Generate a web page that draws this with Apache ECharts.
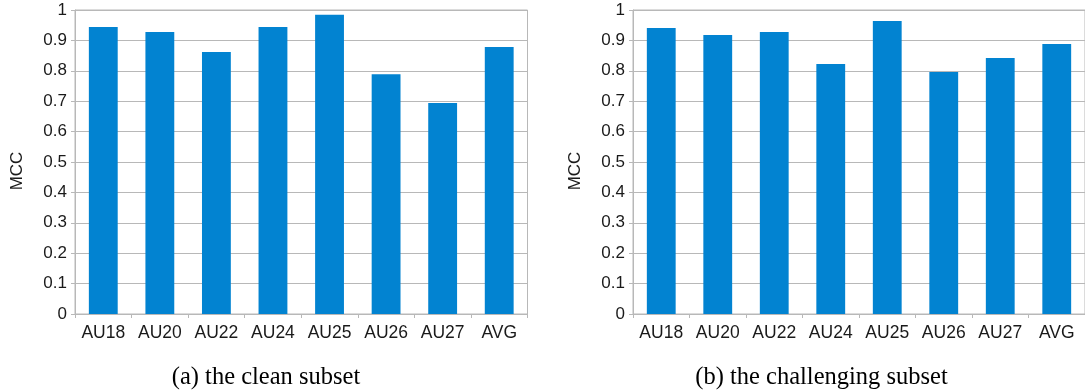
<!DOCTYPE html>
<html>
<head>
<meta charset="utf-8">
<script src="https://cdn.jsdelivr.net/npm/echarts@6/dist/echarts.min.js"></script>
<style>
  html, body { margin: 0; padding: 0; background: #ffffff; }
  #chart { width: 1085px; height: 392px; }
</style>
</head>
<body>
<div id="chart"></div>
<script>
// Action units evaluated, plus the average column
const categories = ['AU18', 'AU20', 'AU22', 'AU24', 'AU25', 'AU26', 'AU27', 'AVG'];

// MCC per action unit on the clean subset
const cleanMcc = [0.944, 0.928, 0.862, 0.944, 0.984, 0.789, 0.694, 0.878];

// MCC per action unit on the challenging subset
const challengingMcc = [0.941, 0.918, 0.928, 0.822, 0.964, 0.796, 0.842, 0.888];

// Y axis ticks
const yTicks = [0, 0.1, 0.2, 0.3, 0.4, 0.5, 0.6, 0.7, 0.8, 0.9, 1];

const captions = ['(a) the clean subset', '(b) the challenging subset'];

const SANS = '"Liberation Sans", Arial, sans-serif';
const SERIF = '"Liberation Serif", "Times New Roman", serif';
const GRID_GREY = '#b8b8b8';
const BAR_BLUE = '#0283d1';
const TEXT = '#1a1a1a';

const chart = echarts.init(document.getElementById('chart'), null, { renderer: 'canvas' });

function xAxis(gridIndex) {
  return {
    type: 'category',
    gridIndex,
    data: categories,
    boundaryGap: true,
    axisLine: { show: true, lineStyle: { color: GRID_GREY, width: 1 } },
    axisTick: { show: true, length: 4, inside: false, alignWithLabel: false,
                lineStyle: { color: GRID_GREY, width: 1 } },
    axisLabel: { color: TEXT, fontFamily: SANS, fontSize: 17.5, margin: 10,
                 interval: 0, hideOverlap: false },
    splitLine: { show: false }
  };
}

function yAxis(gridIndex) {
  return {
    type: 'value',
    gridIndex,
    min: yTicks[0],
    max: yTicks[yTicks.length - 1],
    interval: yTicks[1] - yTicks[0],
    axisLine: { show: true, lineStyle: { color: GRID_GREY, width: 1 } },
    axisTick: { show: true, length: 4, lineStyle: { color: GRID_GREY, width: 1 } },
    axisLabel: {
      color: TEXT, fontFamily: SANS, fontSize: 17, margin: 8,
      formatter: v => String(Math.round(v * 10) / 10)
    },
    splitLine: { show: true, lineStyle: { color: GRID_GREY, width: 1 } }
  };
}

function barSeries(index, values) {
  return {
    type: 'bar',
    xAxisIndex: index,
    yAxisIndex: index,
    data: values,
    barWidth: '51%',
    itemStyle: { color: BAR_BLUE },
    silent: true
  };
}

function axisTitle(x, y) {
  return {
    type: 'text', x, y, rotation: Math.PI / 2,
    style: { text: 'MCC', x: 0, y: 0, align: 'center', verticalAlign: 'middle',
             fill: TEXT, font: '17px ' + SANS }
  };
}

function caption(x, y, text) {
  return {
    type: 'text', x, y,
    style: { text, x: 0, y: 0, align: 'center', verticalAlign: 'middle',
             fill: '#000000', font: '24.5px ' + SERIF }
  };
}

chart.setOption({
  animation: false,
  backgroundColor: '#ffffff',
  grid: [
    { left: 75, top: 10, width: 452.5, height: 304, show: true,
      borderColor: GRID_GREY, borderWidth: 1, backgroundColor: 'transparent' },
    { left: 633, top: 10, width: 452.5, height: 304, show: true,
      borderColor: GRID_GREY, borderWidth: 1, backgroundColor: 'transparent' }
  ],
  xAxis: [xAxis(0), xAxis(1)],
  yAxis: [yAxis(0), yAxis(1)],
  series: [barSeries(0, cleanMcc), barSeries(1, challengingMcc)],
  graphic: [
    axisTitle(17.5, 171),
    axisTitle(575.5, 171),
    caption(266, 377.5, captions[0]),
    caption(821.5, 377.5, captions[1])
  ]
});
</script>
</body>
</html>
